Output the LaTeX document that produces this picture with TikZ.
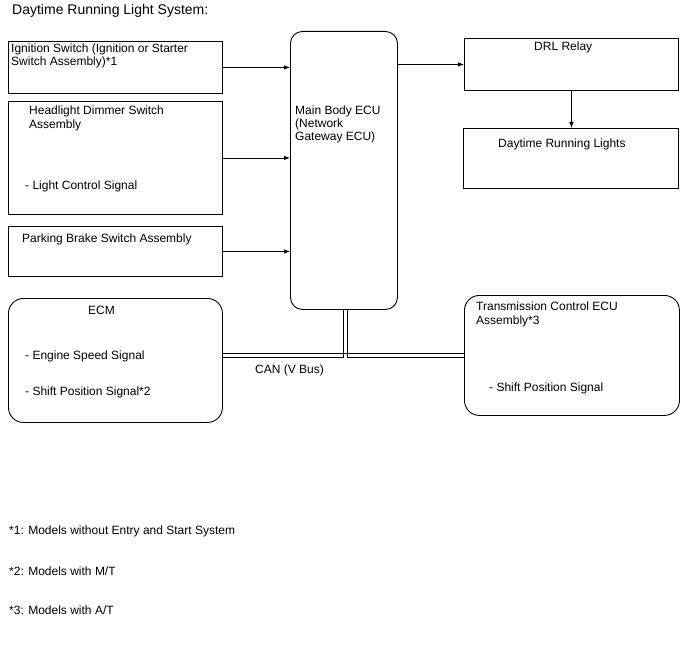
\documentclass[tikz,border=0pt]{standalone}
\usepackage{fontspec}
\setmainfont{Liberation Sans}
\usetikzlibrary{arrows.meta}
\begin{document}
\begin{tikzpicture}[x=1pt,y=-1pt,
  box/.style={draw=black, line width=0.9pt, minimum width=#1, inner sep=0pt, anchor=north west},
  rbox/.style={box=#1, rounded corners=12pt},
  txt/.style={anchor=base west, inner sep=0pt, font=\fontsize{12}{13}\selectfont},
  arr/.style={line width=0.8pt, -{Latex[length=6pt,width=4.5pt]}},
  can/.style={line width=0.9pt}]
\useasboundingbox (0,0) rectangle (688,658);
\node[txt, font=\fontsize{14}{16}\selectfont] (title) at (12,15) {Daytime Running Light System:};
% boxes
\node[box=214pt, minimum height=52pt] (ign) at (8,41) {};
\node[box=214pt, minimum height=113pt] (hds) at (8,101) {};
\node[box=214pt, minimum height=50pt] (pbs) at (8,226) {};
\node[rbox=107pt, minimum height=278pt] (ecu) at (290,31) {};
\node[box=214pt, minimum height=52pt] (drl) at (464,38) {};
\node[box=215pt, minimum height=60pt] (lts) at (463,128) {};
\node[rbox=214pt, minimum height=124pt, rounded corners=15pt] (ecm) at (8,298) {};
\node[rbox=215pt, minimum height=120pt, rounded corners=15pt] (tcu) at (464,295) {};
% texts
\node[txt] (ign1) at (11,53) {Ignition Switch (Ignition or Starter};
\node[txt] (ign2) at (11,66) {Switch Assembly)*1};
\node[txt] (hds1) at (29,115) {Headlight Dimmer Switch};
\node[txt] (hds2) at (29,129) {Assembly};
\node[txt] (hds3) at (25,189) {- Light Control Signal};
\node[txt] (pbs1) at (22,242) {Parking Brake Switch Assembly};
\node[txt] (ecu1) at (295,115) {Main Body ECU};
\node[txt] (ecu2) at (295,128) {(Network};
\node[txt] (ecu3) at (295,141) {Gateway ECU)};
\node[txt] (drl1) at (534,51) {DRL Relay};
\node[txt] (lts1) at (498,148) {Daytime Running Lights};
\node[txt] (ecm1) at (88,314) {ECM};
\node[txt] (ecm2) at (25,359) {- Engine Speed Signal};
\node[txt] (ecm3) at (25,395) {- Shift Position Signal*2};
\node[txt] (tcu1) at (476,310) {Transmission Control ECU};
\node[txt] (tcu2) at (476,324) {Assembly*3};
\node[txt] (tcu3) at (489,391) {- Shift Position Signal};
\node[txt] (canl) at (255,373) {CAN (V Bus)};
\node[txt] (fn1) at (9,534) {*1: Models without Entry and Start System};
\node[txt] (fn2) at (9,575) {*2: Models with M/T};
\node[txt] (fn3) at (9,614) {*3: Models with A/T};
% arrows
\draw[arr] (ign.east) -- (ign.east -| ecu.west);
\draw[arr] (hds.east) -- (hds.east -| ecu.west);
\draw[arr] (pbs.east) -- (pbs.east -| ecu.west);
\draw[arr] (drl.west -| ecu.east) -- (drl.west);
\draw[arr] (drl.south) -- (drl.south |- lts.north);
% CAN bus (double line)
\coordinate (busj) at ([xshift=1pt]ecu.south |- tcu.west);
\draw[can] ([yshift=-2pt]ecm.east |- busj) -- ([xshift=-2pt,yshift=-2pt]busj) -- ([xshift=-2pt]busj |- ecu.south);
\draw[can] ([xshift=2pt]busj |- ecu.south) -- ([xshift=2pt,yshift=-2pt]busj) -- ([yshift=-2pt]tcu.west |- busj);
\draw[can] ([yshift=2pt]ecm.east |- busj) -- ([yshift=2pt]tcu.west |- busj);
\end{tikzpicture}
\end{document}
